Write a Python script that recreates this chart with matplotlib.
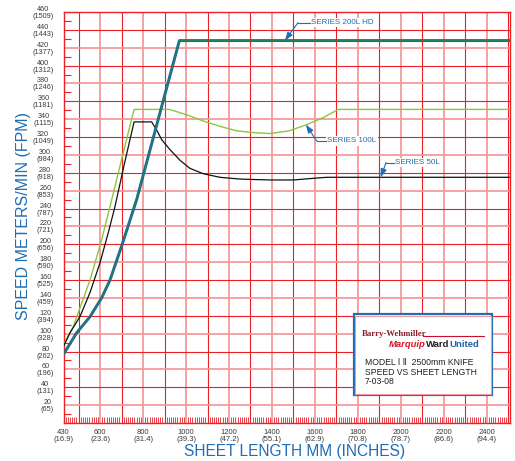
import numpy as np
import matplotlib.pyplot as plt
from matplotlib.patches import Rectangle

# series: sheet length (mm) vs speed (m/min)
hd200_x = [430, 491, 553, 607, 646, 700, 770, 969, 2508]
hd200_y = [77, 101, 119, 140, 160, 198, 250, 428, 428]

l100_x = [430, 475, 553, 607, 654, 700, 758, 922, 1003, 1080, 1158, 1236, 1313, 1391,
          1480, 1562, 1640, 1709, 2508]
l100_y = [88, 108, 160, 205, 250, 295, 351, 351, 345, 338, 332, 327, 325, 324,
          327, 334, 342, 351, 351]

l50_x = [430, 460, 506, 553, 599, 638, 669, 710, 758, 840, 863, 887, 925, 972, 1018, 1080,
         1158, 1251, 1391, 1500, 1600, 1655, 2508]
l50_y = [86, 101, 119, 146, 179, 213, 242, 287, 337, 337, 328, 317, 306, 294, 285, 279,
         275, 273, 272, 272, 274, 275, 275]

x_ticks = [430, 600, 800, 1000, 1200, 1400, 1600, 1800, 2000, 2200, 2400]
x_inches = ["16.9", "23.6", "31.4", "39.3", "47.2", "55.1", "62.9", "70.8", "78.7", "86.6", "94.4"]
y_ticks = list(range(20, 461, 20))
y_fpm = ["65", "131", "196", "262", "328", "394", "459", "525", "590", "656", "721", "787",
         "853", "918", "984", "1049", "1115", "1181", "1246", "1312", "1377", "1443", "1509"]

BLUE = "#1f6db5"
RED = "#ec2027"
PINK = "#f49a9d"
GREY = "#3a3a3a"
FONT = ["Liberation Sans", "DejaVu Sans"]
plt.rcParams["font.family"] = FONT

fig = plt.figure(figsize=(5.15, 4.61), dpi=100)
ax = fig.add_axes([63.6 / 515, 1 - 423 / 461, 446.4 / 515, 411 / 461])
ax.set_xlim(430, 2508)
ax.set_ylim(0, 460)

# grid paper
for xv in range(500, 2501, 100):
    if xv % 200 == 0:
        ax.axvline(xv, color=PINK, lw=1.3, zorder=0)
    else:
        ax.axvline(xv, color=RED, lw=0.8, zorder=0)
for yv in range(20, 460, 20):
    if yv % 40 == 0:
        ax.axhline(yv, color=RED, lw=0.8, zorder=0)
    else:
        ax.axhline(yv, color=PINK, lw=1.3, zorder=0)
for s in ax.spines.values():
    s.set_color(RED)
    s.set_linewidth(1.0)

ax.set_xticks(x_ticks)
ax.set_xticklabels([f"{a}\n({b})" for a, b in zip(x_ticks, x_inches)],
                   fontsize=5.5, color=GREY, linespacing=1.15)
ax.set_yticks(y_ticks)
ax.set_yticklabels([f"{a}\n({b})" for a, b in zip(y_ticks, y_fpm)],
                   fontsize=5.2, color=GREY, linespacing=1.0, multialignment="center")
ax.set_xticks(np.arange(440, 2508, 10), minor=True)
ax.set_yticks(np.arange(10, 460, 20), minor=True)
ax.tick_params(axis="both", which="major", length=0)
ax.tick_params(axis="x", which="major", pad=4)
ax.tick_params(axis="y", which="major", pad=7)
ax.tick_params(axis="x", which="minor", direction="in", length=4, width=0.6, color=RED)
ax.tick_params(axis="y", which="minor", direction="in", length=5, width=0.8, color=RED)

# curves
ax.plot(l100_x, l100_y, color="#8cc63f", lw=1.0, zorder=3)
ax.plot(l50_x, l50_y, color="#111111", lw=0.9, zorder=3)
ax.plot(hd200_x, hd200_y, color="#1565a8", lw=2.1, zorder=4)
ax.plot(hd200_x, hd200_y, color="#2b7f55", lw=0.9, zorder=4)

# series callouts
callouts = [
    ("SERIES 200L HD", (1460, 428), (1521, 448), (1582, 448)),
    ("SERIES 100L", (1558, 334), (1608, 315.7), (1658, 315.7)),
    ("SERIES 50L", (1906, 275), (1931, 291.5), (1973, 291.5)),
]
for label, tip, bend, txt in callouts:
    ax.text(txt[0], txt[1], label, color=BLUE, fontsize=5.8, va="center", ha="left", zorder=6,
            bbox=dict(boxstyle="square,pad=0.15", fc="white", ec="none"))
    ax.plot([bend[0], txt[0] - 5], [bend[1], txt[1]], color=BLUE, lw=0.8, zorder=6)
    ax.annotate("", xy=tip, xytext=bend, zorder=6,
                arrowprops=dict(arrowstyle="-|>,head_length=0.5,head_width=0.18",
                                color=BLUE, lw=0.8, shrinkA=0, shrinkB=0))

# title block
ax.add_patch(Rectangle((0.6505, 0.068), 0.309, 0.197, transform=ax.transAxes,
                       fc="white", ec=BLUE, lw=1.6, zorder=7))
ax.add_patch(Rectangle((0.6535, 0.0715), 0.303, 0.190, transform=ax.transAxes,
                       fc="white", ec=PINK, lw=0.8, zorder=7))
ax.text(0.668, 0.2155, "Barry-Wehmiller", transform=ax.transAxes, fontsize=6.3,
        family=["Liberation Serif", "DejaVu Serif"], weight="bold", color="#8c1d2e",
        va="center", ha="left", zorder=8)
ax.plot([0.805, 0.942], [0.2117, 0.2117], transform=ax.transAxes, color="#c8102e", lw=0.8, zorder=8)
t1 = ax.text(0.729, 0.192, "Marquip", transform=ax.transAxes, fontsize=6.8, weight="bold",
             style="italic", color="#d7182a", va="center", ha="left", zorder=8)
t2 = ax.annotate("Ward", xy=(1, 0), xycoords=t1, xytext=(0.2, 0), textcoords="offset points",
                 va="bottom", fontsize=6.8, weight="bold", color="#231f20", zorder=8)
ax.annotate("United", xy=(1, 0), xycoords=t2, xytext=(0.2, 0), textcoords="offset points",
            va="bottom", fontsize=6.8, weight="bold", color="#1f5fa8", zorder=8)
for yy, line in [(0.1477, "MODEL \u2160 \u2161  2500mm KNIFE"), (0.1234, "SPEED VS SHEET LENGTH"),
                 (0.1005, "7-03-08")]:
    ax.text(0.675, yy, line, transform=ax.transAxes, fontsize=6.2, color="#231f20",
            va="center", ha="left", zorder=8)

fig.text(23.5 / 515, 1 - 216 / 461, "SPEED METERS/MIN (FPM)", rotation=90, fontsize=11.5,
         color=BLUE, ha="center", va="center")
fig.text(295 / 515, 1 - 451 / 461, "SHEET LENGTH MM (INCHES)", fontsize=11.2,
         color=BLUE, ha="center", va="center")

fig.savefig("out.png", dpi=100)
